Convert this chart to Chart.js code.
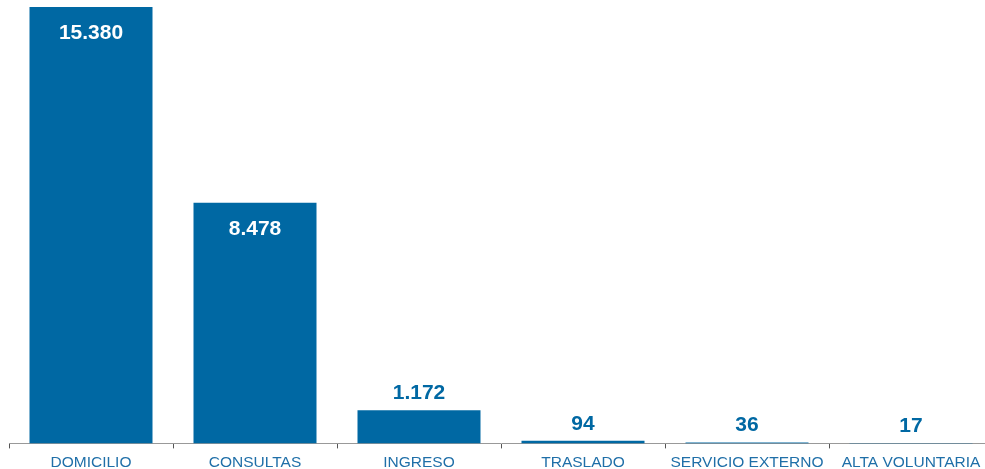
<!DOCTYPE html>
<html>
<head>
<meta charset="utf-8">
<script src="https://cdn.jsdelivr.net/npm/chart.js@4/dist/chart.umd.min.js"></script>
<style>
  html, body { margin: 0; padding: 0; background: #fff; overflow: hidden; }
  #wrap { width: 994px; height: 477px; position: relative; }
</style>
</head>
<body>
<div id="wrap"><canvas id="chart"></canvas></div>
<script>
const categories = ['DOMICILIO', 'CONSULTAS', 'INGRESO', 'TRASLADO', 'SERVICIO EXTERNO', 'ALTA VOLUNTARIA'];
const values = [15380, 8478, 1172, 94, 36, 17];

const barColor = '#0068a3';

// es-ES style thousands separator
function fmt(v) {
    return String(v).replace(/\B(?=(\d{3})+(?!\d))/g, '.');
}

const valueLabels = {
    id: 'valueLabels',
    afterDatasetsDraw(chart) {
        const ctx = chart.ctx;
        const meta = chart.getDatasetMeta(0);
        ctx.save();
        ctx.font = 'bold 21px "Liberation Sans", Arial, sans-serif';
        ctx.textAlign = 'center';
        ctx.textBaseline = 'middle';
        meta.data.forEach((bar, i) => {
            const h = bar.base - bar.y;
            if (h > 60) {
                ctx.fillStyle = '#ffffff';
                ctx.fillText(fmt(values[i]), bar.x, bar.y + 26);
            } else {
                ctx.fillStyle = barColor;
                ctx.fillText(fmt(values[i]), bar.x, bar.y - 17);
            }
        });
        ctx.restore();
    }
};

const ctx = document.getElementById('chart').getContext('2d');

new Chart(ctx, {
    type: 'bar',
    data: {
        labels: categories,
        datasets: [{
            data: values,
            backgroundColor: barColor,
            barPercentage: 0.75,
            categoryPercentage: 1.0
        }]
    },
    options: {
        responsive: true,
        maintainAspectRatio: false,
        animation: false,
        layout: { padding: { left: 9, right: 1, top: 7, bottom: 0 } },
        plugins: {
            legend: { display: false },
            tooltip: { enabled: false }
        },
        scales: {
            x: {
                offset: true,
                grid: {
                    offset: true,
                    drawOnChartArea: false,
                    drawTicks: true,
                    tickLength: 5,
                    color: '#555555'
                },
                border: { display: true, color: '#999999', width: 1 },
                ticks: {
                    color: '#1f6fa8',
                    font: { family: '"Liberation Sans", Arial, sans-serif', size: 15.5 },
                    padding: 5,
                    maxRotation: 0,
                    autoSkip: false
                }
            },
            y: {
                display: false,
                min: 0,
                max: 15380
            }
        }
    },
    plugins: [valueLabels]
});
</script>
</body>
</html>
